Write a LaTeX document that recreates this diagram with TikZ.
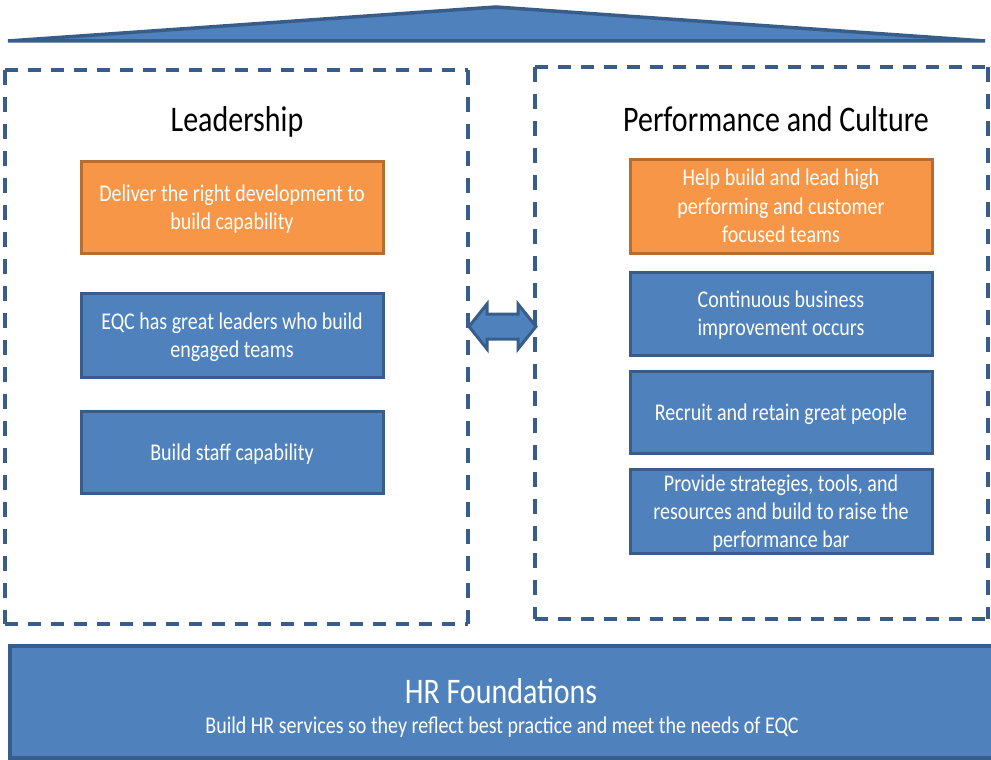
\documentclass[tikz,border=0pt]{standalone}
\usepackage{fontspec}
\setmainfont{Carlito}
\usepackage{graphicx}
\definecolor{hblue}{HTML}{4F81BD}
\definecolor{hblueline}{HTML}{385D8A}
\definecolor{horange}{HTML}{F79646}
\definecolor{horangeline}{HTML}{B66D31}
% text set slightly taller than wide, sitting a little low in its box
\newcommand\tallt[1]{\raisebox{-2.5pt}[\height][\depth]{\scalebox{1}[1.2]{\begin{tabular}{@{}c@{}}#1\end{tabular}}}}

\begin{document}
\begin{tikzpicture}[x=1pt,y=-1pt,
  bluebox/.style={draw=hblueline, fill=hblue, line width=3pt, text=white,
    minimum width=302pt, inner sep=0pt, font=\fontsize{20}{23.5}\selectfont},
  orangebox/.style={bluebox, draw=horangeline, fill=horange},
  title/.style={font=\fontsize{30}{36}\selectfont, inner sep=0pt},
  hside/.style={draw=hblueline, line width=3.5pt, dash pattern=on 13pt off 10pt},
  vside/.style={draw=hblueline, line width=3.5pt, dash pattern=on 15pt off 12pt},
  roof/.style={draw=hblueline, fill=hblue, line width=3.5pt, line join=miter},
  linkarrow/.style={draw=hblueline, fill=hblue, line width=3pt, line join=miter}]

\useasboundingbox (0,0) rectangle (991,760);

% roof
\draw[roof] (8,41) -- (496,7) -- (985,41) -- cycle;

% left dashed column
\draw[hside] (5,70) -- (468,70);
\draw[hside] (5,624) -- (468,624);
\draw[vside] (5,70) -- (5,624);
\draw[vside] (468,70) -- (468,624);

% right dashed column
\draw[hside] (535,67) -- (988,67);
\draw[hside] (535,619) -- (988,619);
\draw[vside] (535,67) -- (535,619);
\draw[vside] (988,67) -- (988,619);

% column titles
\node[title] (lead) at (237,120) {\tallt{Leadership}};
\node[title] (perf) at (776,120) {\tallt{Performance and Culture}};

% left column boxes
\node[orangebox, minimum height=92pt] (l1) at (232,207)
  {\tallt{Deliver the right development to\\build capability}};
\node[bluebox, minimum height=84pt] (l2) at (232,335)
  {\tallt{EQC has great leaders who build\\engaged teams}};
\node[bluebox, minimum height=82pt] (l3) at (232,452)
  {\tallt{Build staff capability}};

% right column boxes
\node[orangebox, minimum height=94pt] (r1) at (781,206)
  {\tallt{Help build and lead high\\performing and customer\\focused teams}};
\node[bluebox, minimum height=83pt] (r2) at (781,313.5)
  {\tallt{Continuous business\\improvement occurs}};
\node[bluebox, minimum height=82pt] (r3) at (781,412)
  {\tallt{Recruit and retain great people}};
\node[bluebox, minimum height=83pt] (r4) at (781,511.5)
  {\tallt{Provide strategies, tools, and\\resources and build to raise the\\performance bar}};

% two-way arrow between the columns
\draw[linkarrow] (469,326.5) -- (487,304) -- (487,314) -- (518,314) -- (518,304)
  -- (536,326.5) -- (518,349) -- (518,339) -- (487,339) -- (487,349) -- cycle;

% foundation slab
\node[draw=hblueline, fill=hblue, line width=3.5pt, minimum width=990pt,
  minimum height=112pt, inner sep=0pt] (hr) at (505,702) {};
\node[title, text=white] (hrt) at (501,692) {\tallt{HR Foundations}};
\node[inner sep=0pt, text=white, font=\fontsize{20}{23.5}\selectfont] (hrs) at (502,725)
  {\tallt{Build HR services so they reflect best practice and meet the needs of EQC}};

\end{tikzpicture}
\end{document}
